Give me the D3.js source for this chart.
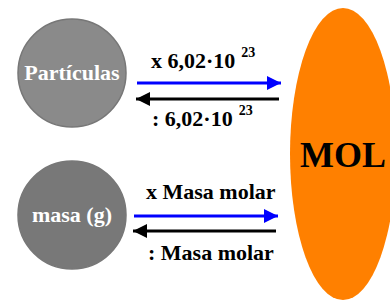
<!DOCTYPE html>
<html>
<head>
<meta charset="utf-8">
<script src="https://cdn.jsdelivr.net/npm/d3@7"></script>
<style>
  html, body { margin: 0; padding: 0; background: #fff; }
  svg { display: block; }
</style>
</head>
<body>
<div id="chart"></div>
<script>
// quantities on the left, converted into moles on the right
const quantities = ['Partículas', 'masa (g)'];
const forwardLabels = ['x 6,02·10', 'x Masa molar'];
const backwardLabels = [': 6,02·10', ': Masa molar'];
const exponents = ['23', ''];
const target = 'MOL';

const width = 390;
const height = 302;
const serif = "'Liberation Serif'";

const svg = d3.select('#chart')
  .append('svg')
  .attr('width', width)
  .attr('height', height);

function label(sel, size) {
  return sel.attr('font-family', serif).attr('font-weight', 'bold').attr('font-size', size);
}

// row positions
const yScale = d3.scalePoint().domain(quantities).range([73, 215]);
const xScale = d3.scaleLinear().domain([0, 1]).range([137, 281]);

// small per-row offsets of the arrows / labels relative to circle centre
const rowLayout = [
  { blue: 10, black: 26, topText: -5, botText: 53, topX: 151, botX: 152 },
  { blue: 1, black: 16, topText: -16, botText: 45, topX: 146, botX: 148 }
];

const defs = svg.append('defs');
[['blue', '#0000ff'], ['black', '#000']].forEach(([id, c]) => {
  defs.append('marker')
    .attr('id', 'head-' + id)
    .attr('viewBox', '0 0 10 10')
    .attr('refX', 10)
    .attr('refY', 5)
    .attr('markerUnits', 'userSpaceOnUse')
    .attr('markerWidth', 30)
    .attr('markerHeight', 14)
    .attr('orient', 'auto')
    .append('path')
    .attr('d', 'M0,0 L10,5 L0,10 Z')
    .attr('fill', c);
});

// orange MOL ellipse
svg.append('ellipse')
  .attr('cx', 343)
  .attr('cy', 154)
  .attr('rx', 53)
  .attr('ry', 146)
  .attr('fill', '#ff8000');

svg.append('text')
  .call(label, 36)
  .attr('x', 343)
  .attr('y', 167)
  .attr('text-anchor', 'middle')
  .attr('fill', '#000')
  .text(target);

// gray circles
const fills = ['#8a8a8a', '#787878'];
const nodes = svg.append('g').selectAll('g')
  .data(quantities)
  .join('g')
  .attr('transform', d => `translate(72, ${yScale(d)})`);

nodes.append('circle')
  .attr('r', 54)
  .attr('fill', (d, i) => fills[i])
  .attr('stroke', '#777')
  .attr('stroke-width', 1.5);

nodes.append('text')
  .call(label, 22)
  .attr('y', 7)
  .attr('text-anchor', 'middle')
  .attr('fill', '#fff')
  .text(d => d);

// arrows
quantities.forEach((q, i) => {
  const y0 = yScale(q);
  const L = rowLayout[i];
  const dx = i === 0 ? 0 : -3;

  svg.append('line')
    .attr('x1', xScale(0) + dx)
    .attr('x2', xScale(1) + dx)
    .attr('y1', y0 + L.blue)
    .attr('y2', y0 + L.blue)
    .attr('stroke', '#0000ff')
    .attr('stroke-width', 3)
    .attr('marker-end', 'url(#head-blue)');

  svg.append('line')
    .attr('x1', xScale(1) + dx - 2)
    .attr('x2', xScale(0) + dx - 1)
    .attr('y1', y0 + L.black)
    .attr('y2', y0 + L.black)
    .attr('stroke', '#000')
    .attr('stroke-width', 3)
    .attr('marker-end', 'url(#head-black)');

  const t1 = svg.append('text')
    .call(label, 22)
    .attr('x', L.topX)
    .attr('y', y0 + L.topText)
    .text(forwardLabels[i]);
  if (exponents[i]) {
    t1.append('tspan').attr('font-size', 14).attr('dx', 6).attr('dy', -11).text(exponents[i]);
  }

  const t2 = svg.append('text')
    .call(label, 22)
    .attr('x', L.botX)
    .attr('y', y0 + L.botText)
    .text(backwardLabels[i]);
  if (exponents[i]) {
    t2.append('tspan').attr('font-size', 14).attr('dx', 6).attr('dy', -11).text(exponents[i]);
  }
});
</script>
</body>
</html>
